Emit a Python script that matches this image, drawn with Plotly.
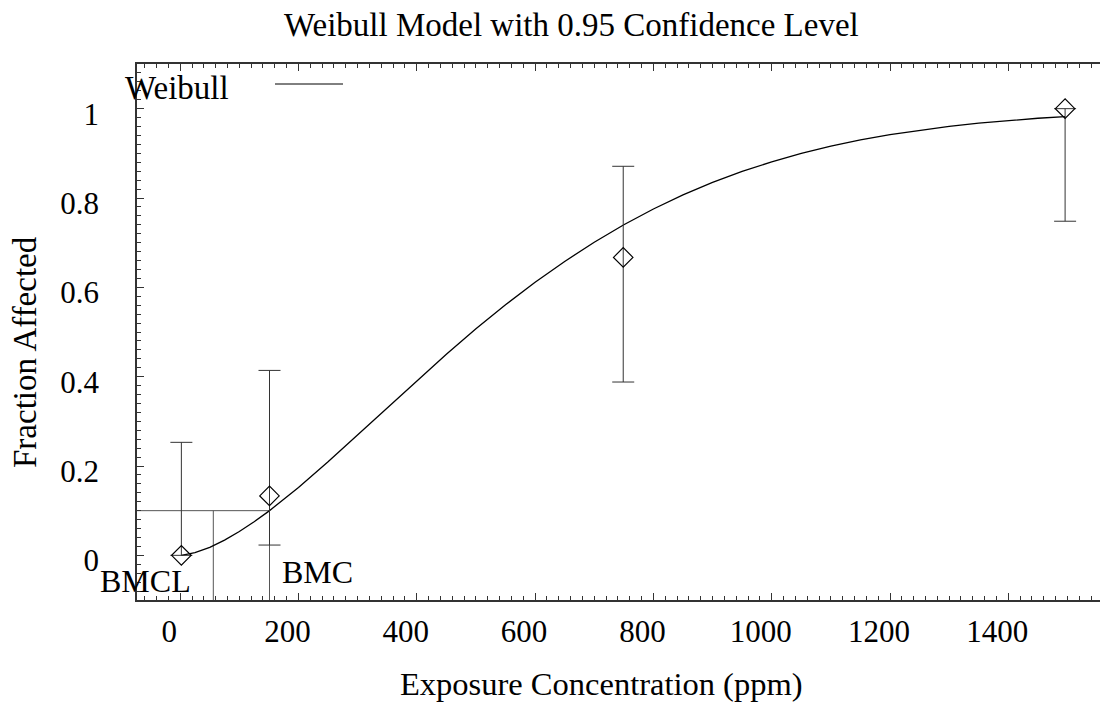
import plotly.graph_objects as go

# ---- data ----
doses = [2, 151, 749, 1496]
frac_affected = [0.0, 0.133, 0.667, 1.0]
ci_lower = [0.0, 0.023, 0.388, 0.748]
ci_upper = [0.253, 0.414, 0.871, 1.0]

curve_x = [2, 25, 50, 75, 100, 125, 150, 175, 200, 250, 300, 350, 400, 450, 500,
           550, 600, 650, 700, 750, 800, 850, 900, 950, 1000, 1050, 1100, 1150,
           1200, 1250, 1300, 1350, 1400, 1450, 1496]
curve_y = [0.0001, 0.0060, 0.0180, 0.0340, 0.0532, 0.0750, 0.0990, 0.1247, 0.1519,
           0.2093, 0.2694, 0.3303, 0.3910, 0.4501, 0.5070, 0.5609, 0.6113, 0.6580,
           0.7010, 0.7401, 0.7753, 0.8068, 0.8348, 0.8595, 0.8810, 0.8998, 0.9160,
           0.9300, 0.9419, 0.9519, 0.9605, 0.9676, 0.9736, 0.9786, 0.9824]

bmr = 0.1
bmc = 151
bmcl = 56

x_range = [-73, 1555]
y_range = [-0.1, 1.1]
x_ticks = [0, 200, 400, 600, 800, 1000, 1200, 1400]
y_ticks = [0, 0.2, 0.4, 0.6, 0.8, 1]

FONT = "Liberation Serif"
AXIS = "#333333"

err_plus = [u - f for u, f in zip(ci_upper, frac_affected)]
err_minus = [f - l for f, l in zip(frac_affected, ci_lower)]

fig = go.Figure()

# BMC / BMCL reference lines
fig.add_trace(go.Scatter(
    x=[x_range[0], bmc, None, bmcl, bmcl, None, bmc, bmc],
    y=[bmr, bmr, None, y_range[0], bmr, None, y_range[0], bmr],
    mode="lines", line=dict(color="#555555", width=1),
    showlegend=False, hoverinfo="skip"))

# model curve
fig.add_trace(go.Scatter(
    x=curve_x, y=curve_y, mode="lines", name="Weibull",
    line=dict(color="black", width=1.3), showlegend=False))

# observed data with confidence bars
fig.add_trace(go.Scatter(
    x=doses, y=frac_affected, mode="markers",
    marker=dict(symbol="diamond-open", size=15, color="black",
                line=dict(width=1.2, color="black")),
    error_y=dict(type="data", symmetric=False, array=err_plus,
                 arrayminus=err_minus, color="#333333", thickness=1, width=11),
    showlegend=False))

def px_x(p):
    return (p - 137) / 963

def px_y(p):
    return (600 - p) / 536

ann = [
    dict(text="Weibull Model with 0.95 Confidence Level", x=px_x(571), y=px_y(25),
         font=dict(size=33)),
    dict(text="Exposure Concentration (ppm)", x=px_x(601), y=px_y(684),
         font=dict(size=32.5)),
    dict(text="Fraction Affected", x=px_x(25), y=px_y(352), textangle=-90,
         font=dict(size=33)),
    dict(text="Weibull", x=px_x(177), y=px_y(88), font=dict(size=33)),
    dict(text="BMCL", x=px_x(145), y=px_y(581), font=dict(size=32)),
    dict(text="BMC", x=px_x(317), y=px_y(572), font=dict(size=32)),
]
for a in ann:
    a.update(xref="paper", yref="paper", showarrow=False,
             xanchor="center", yanchor="middle")
    a["font"].update(family=FONT, color="black")

fig.update_layout(
    width=1100, height=702,
    margin=dict(l=137, r=0, t=64, b=102, autoexpand=False),
    paper_bgcolor="white", plot_bgcolor="white",
    font=dict(family=FONT, color="black", size=31),
    showlegend=False,
    annotations=ann,
    shapes=[dict(type="line", xref="paper", yref="paper",
                 x0=px_x(275), x1=px_x(343), y0=px_y(84), y1=px_y(84),
                 line=dict(color="black", width=1))],
)

fig.update_xaxes(
    range=x_range, tickvals=x_ticks, ticks="inside", ticklen=7, tickwidth=1,
    tickcolor=AXIS, showline=True, linecolor=AXIS, linewidth=1.5,
    mirror="ticks", showgrid=False, zeroline=False, automargin=False,
    tickfont=dict(size=31, family=FONT, color="black"),
    ticklabelstandoff=3, ticklabelshift=-11,
    minor=dict(dtick=20, ticks="inside", ticklen=4, tickcolor=AXIS,
               showgrid=False),
)
fig.update_yaxes(
    range=y_range, tickvals=y_ticks, ticks="inside", ticklen=7, tickwidth=1,
    tickcolor=AXIS, showline=True, linecolor=AXIS, linewidth=1.5,
    mirror=False, showgrid=False, zeroline=False, automargin=False,
    tickfont=dict(size=31, family=FONT, color="black"),
    ticklabelstandoff=30, ticklabelshift=5,
    minor=dict(dtick=0.02, ticks="inside", ticklen=4, tickcolor=AXIS,
               showgrid=False),
)

fig.write_html("out.html", config={"displayModeBar": False},
               post_script="document.body.style.margin='0px';"
                           "document.body.style.overflow='hidden';")
